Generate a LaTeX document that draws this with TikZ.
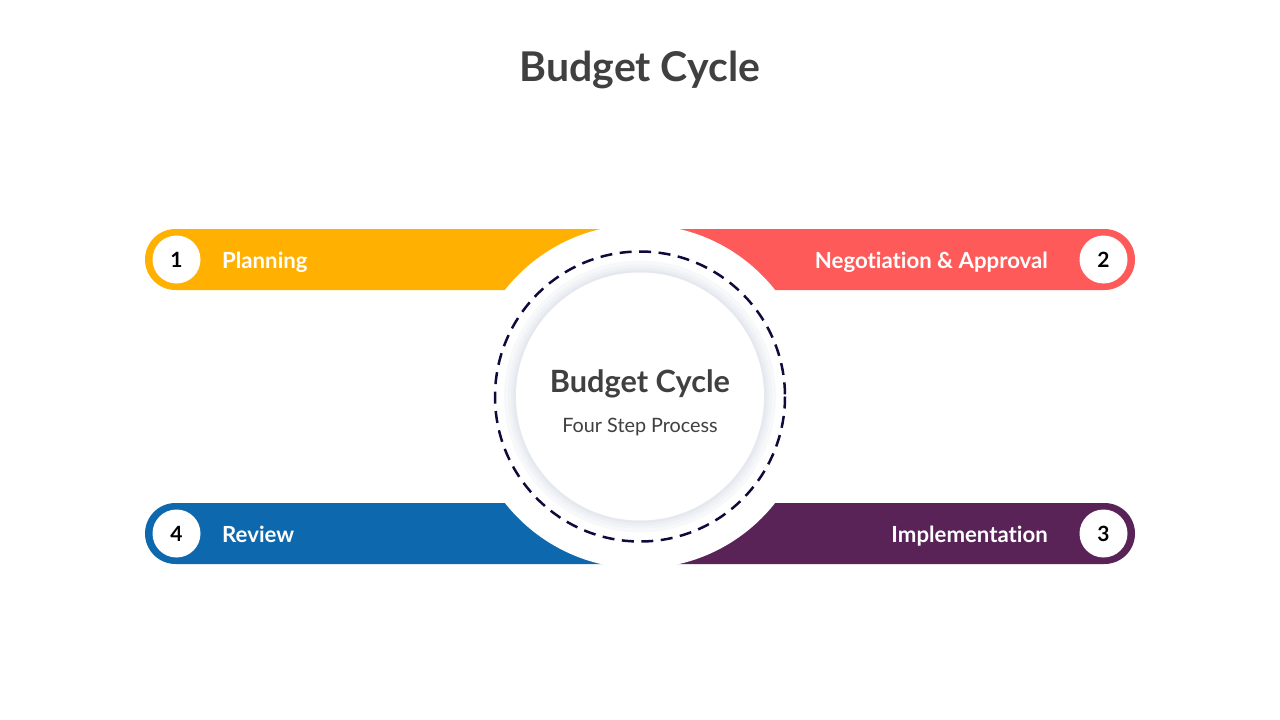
\documentclass[tikz,border=0pt]{standalone}
\usepackage{fontspec}
\setmainfont{Lato}[Ligatures={NoCommon}]
\definecolor{cyellow}{HTML}{FFB000}
\definecolor{cred}{HTML}{FF5A5A}
\definecolor{cblue}{HTML}{0D68AD}
\definecolor{cpurple}{HTML}{592357}
\definecolor{ctext}{HTML}{404040}
\definecolor{cdash}{HTML}{0F0A3C}
\definecolor{glowa}{HTML}{F7F8FA}
\definecolor{glowb}{HTML}{F1F3F7}
\definecolor{glowc}{HTML}{EBEEF3}
\definecolor{glowd}{HTML}{E5E9EF}
\begin{document}
\begin{tikzpicture}[x=1pt,y=-1pt,
  barlabel/.style={font=\bfseries\fontsize{22.2}{26}\selectfont, text=white, inner sep=0pt},
  numcircle/.style={circle, fill=white, minimum size=48pt, inner sep=0pt, font=\bfseries\fontsize{21}{24}\selectfont, text=black},
]
\useasboundingbox (0,0) rectangle (1280,720);
\fill[white] (0,0) rectangle (1280,720);
% title
\node[font=\bfseries\fontsize{41}{46}\selectfont, text=ctext] (title) at (640,70) {Budget Cycle};
% bars
\fill[cyellow, rounded corners=30.5pt] (145,229) rectangle (700,290);
\fill[cred, rounded corners=30.5pt] (580,229) rectangle (1135,290);
\fill[cyellow] (580,229) rectangle (640,290);
\fill[cblue, rounded corners=30.5pt] (145,503) rectangle (700,564);
\fill[cpurple, rounded corners=30.5pt] (580,503) rectangle (1135,564);
\fill[cblue] (580,503) rectangle (640,564);
% central white disc
\fill[white] (640,396.5) circle (172);
% glow ring
\fill[glowa] (640,396.5) circle (136);
\fill[glowb] (640,396.5) circle (132);
\fill[glowc] (640,396.5) circle (129);
\fill[glowd] (640,396.5) circle (126.5);
% dashed circle
\draw[cdash, line width=2.5pt, dash pattern=on 12pt off 7.5pt] (640,396.5) circle (145);
% inner circle
\node[circle, fill=white, minimum size=248pt, inner sep=0pt] (hub) at (640,396.5) {};
\node[font=\bfseries\fontsize{30.7}{34}\selectfont, text=ctext] (hubtitle) at (640,384) {Budget Cycle};
\node[font=\fontsize{19.8}{23}\selectfont, text=ctext] (hubsub) at (640,427) {Four Step Process};
% numbers
\node[numcircle] (n1) at (176.5,259.5) {1};
\node[numcircle] (n2) at (1103.5,259.5) {2};
\node[numcircle] (n3) at (1103.5,533.5) {3};
\node[numcircle] (n4) at (176.5,533.5) {4};
% labels
\node[barlabel, anchor=base west] (l1) at (222,268) {Planning};
\node[barlabel, anchor=base east] (l2) at (1048,268) {Negotiation \& Approval};
\node[barlabel, anchor=base east] (l3) at (1048,542) {Implementation};
\node[barlabel, anchor=base west] (l4) at (222,542) {Review};
\end{tikzpicture}
\end{document}
